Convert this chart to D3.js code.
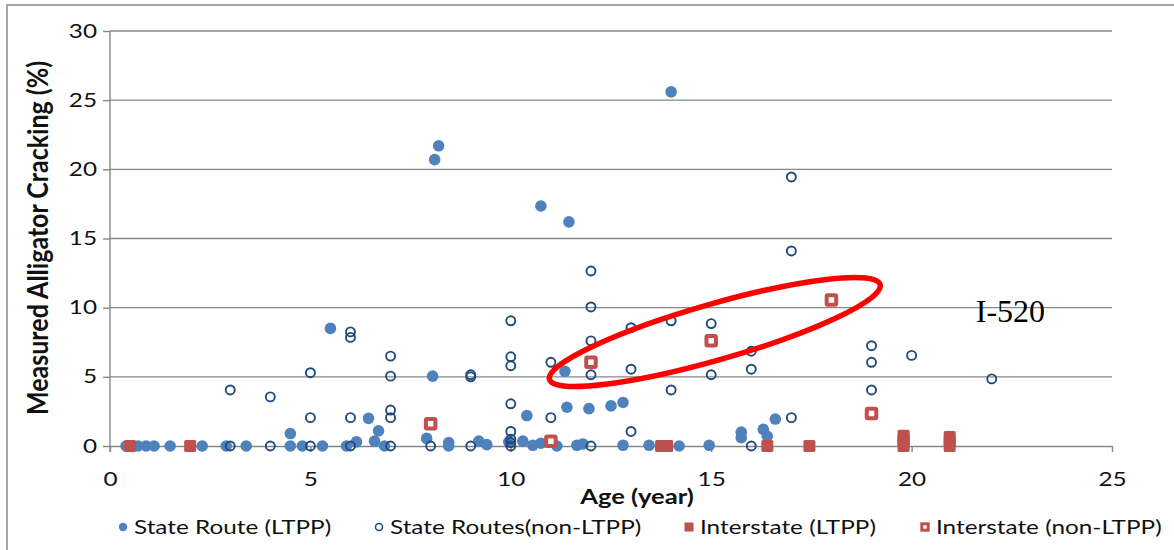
<!DOCTYPE html>
<html>
<head>
<meta charset="utf-8">
<script src="https://cdn.jsdelivr.net/npm/d3@7"></script>
<style>
  html, body { margin: 0; padding: 0; background: #fff; }
  svg { display: block; font-family: Lato, "Open Sans", sans-serif; }
</style>
</head>
<body>
<svg id="chart" width="1174" height="550"></svg>
<script>
// ─── Data ─────────────────────────────────────────────────────────────────────
// [age (year), measured alligator cracking (%)]

const stateLtpp = [
  [0.4, 0], [0.7, 0], [0.9, 0], [1.1, 0], [1.5, 0], [2.3, 0], [2.9, 0], [3.4, 0],
  [4.5, 0.9], [4.5, 0], [4.8, 0], [5.3, 0], [5.5, 8.5], [5.9, 0], [6.15, 0.3],
  [6.45, 2.0], [6.6, 0.35], [6.7, 1.1], [6.85, 0], [7.9, 0.55], [8.05, 5.05],
  [8.1, 20.7], [8.2, 21.7], [8.45, 0.25], [8.45, 0], [9.2, 0.35], [9.4, 0.1],
  [9.95, 0.3], [10.3, 0.35], [10.4, 2.2], [10.55, 0.05], [10.75, 0.2], [10.75, 17.35],
  [11.15, 0], [11.35, 5.4], [11.4, 2.8], [11.45, 16.2], [11.65, 0.05], [11.8, 0.15],
  [11.95, 2.7], [12.5, 2.9], [12.8, 3.15], [12.8, 0.05], [13.45, 0.05], [14.0, 25.6],
  [14.2, 0], [14.95, 0.05], [15.75, 1.0], [15.75, 0.6], [16.3, 1.2], [16.4, 0.7],
  [16.6, 1.95]
];

const stateNonLtpp = [
  [3, 4.05], [3, 0], [4, 3.55], [4, 0], [5, 5.3], [5, 2.05], [5, 0],
  [6, 8.25], [6, 7.85], [6, 2.05], [6, 0], [7, 6.5], [7, 5.05], [7, 2.6], [7, 2.05], [7, 0],
  [8, 0], [9, 5.15], [9, 5.0], [9, 0],
  [10, 9.05], [10, 6.45], [10, 5.8], [10, 3.05], [10, 1.05], [10, 0.5], [10, 0.25], [10, 0],
  [11, 6.05], [11, 2.05], [12, 12.65], [12, 10.05], [12, 7.6], [12, 5.15], [12, 0],
  [13, 8.55], [13, 5.55], [13, 1.05], [14, 9.05], [14, 4.05], [15, 8.85], [15, 5.15],
  [16, 6.85], [16, 5.55], [16, 0], [17, 19.45], [17, 14.1], [17, 2.05],
  [19, 7.25], [19, 6.05], [19, 4.05], [20, 6.55], [22, 4.85]
];

const interLtpp = [
  [0.5, 0], [2.0, 0], [13.75, 0], [13.9, 0], [16.4, 0], [17.45, 0],
  [19.8, 0], [19.8, 0.3], [19.8, 0.55], [19.8, 0.75],
  [20.95, 0], [20.95, 0.35], [20.95, 0.65]
];

const interNonLtpp = [
  [8.0, 1.6], [11.0, 0.35], [12.0, 6.05], [15.0, 7.6], [18.0, 10.55], [19.0, 2.35]
];

const xTicks = [0, 5, 10, 15, 20, 25];
const yTicks = [0, 5, 10, 15, 20, 25, 30];

const seriesNames = [
  "State Route (LTPP)",
  "State Routes(non-LTPP)",
  "Interstate (LTPP)",
  "Interstate (non-LTPP)"
];

// annotation: ellipse around I-520 points, centre in data units
const ellipseCentre = [15.09, 8.24];
const labelPos = [21.6, 9.0];

// ─── Setup ────────────────────────────────────────────────────────────────────

const BLUE = "#4F81BD";
const NAVY = "#1F4A7D";
const RED = "#C0504D";
const GRID = "#878787";
const SX = 1.28; // source picture has horizontally stretched text

const svg = d3.select("#chart");

const x = d3.scaleLinear().domain([0, 25]).range([110, 1112]);
const y = d3.scaleLinear().domain([0, 30]).range([446, 31]);

function stretch(sel) {
  sel.each(function () {
    const t = d3.select(this);
    const tx = +t.attr("x") || 0;
    const ty = +t.attr("y") || 0;
    t.attr("x", null).attr("y", null)
      .attr("transform", `translate(${tx},${ty}) scale(${SX},1)`);
  });
}

// outer frame
svg.append("path")
  .attr("d", "M7,550 V5 H1174")
  .attr("fill", "none")
  .attr("stroke", "#8c8c8c")
  .attr("stroke-width", 1.5);

// ─── Grid & axes ──────────────────────────────────────────────────────────────

svg.append("g")
  .selectAll("line")
  .data(yTicks.filter(d => d > 0))
  .join("line")
  .attr("x1", x(0)).attr("x2", x(25))
  .attr("y1", d => y(d)).attr("y2", d => y(d))
  .attr("stroke", GRID)
  .attr("stroke-width", 1.4);

const yAxis = svg.append("g")
  .attr("transform", `translate(${x(0)},0)`)
  .call(d3.axisLeft(y).tickValues(yTicks).tickSize(7).tickSizeOuter(0).tickPadding(6));

const xAxis = svg.append("g")
  .attr("transform", `translate(0,${y(0)})`)
  .call(d3.axisBottom(x).tickValues(xTicks).tickSize(6).tickSizeOuter(0));

[yAxis, xAxis].forEach(g => {
  g.selectAll("path, line").attr("stroke", GRID).attr("stroke-width", 1.4);
  g.selectAll("text")
    .attr("font-family", "Lato, sans-serif")
    .attr("font-size", "19px")
    .attr("fill", "#111");
});
yAxis.select(".domain").attr("d", `M0,${y(30)}V${y(0) + 6}`);
xAxis.selectAll("text").attr("y", 40).attr("dy", null);
stretch(yAxis.selectAll("text"));
stretch(xAxis.selectAll("text"));

// axis titles
svg.append("text")
  .attr("transform", "translate(48,238) scale(1.15,1) rotate(-90)")
  .attr("text-anchor", "middle")
  .attr("font-size", "25px")
  .attr("font-weight", "700")
  .attr("fill", "#111")
  .text("Measured Alligator Cracking (%)");

svg.append("text")
  .attr("transform", `translate(637,504) scale(${SX},1)`)
  .attr("text-anchor", "middle")
  .attr("font-size", "20px")
  .attr("font-weight", "700")
  .attr("fill", "#111")
  .text("Age (year)");

// ─── Series ───────────────────────────────────────────────────────────────────

svg.append("g")
  .selectAll("circle")
  .data(stateLtpp)
  .join("circle")
  .attr("cx", d => x(d[0]))
  .attr("cy", d => y(d[1]))
  .attr("r", 5.8)
  .attr("fill", BLUE);

svg.append("g")
  .selectAll("circle")
  .data(stateNonLtpp)
  .join("circle")
  .attr("cx", d => x(d[0]))
  .attr("cy", d => y(d[1]))
  .attr("r", 4.5)
  .attr("fill", "none")
  .attr("stroke", NAVY)
  .attr("stroke-width", 1.9);

svg.append("g")
  .selectAll("rect")
  .data(interLtpp)
  .join("rect")
  .attr("x", d => x(d[0]) - 6)
  .attr("y", d => y(d[1]) - 6)
  .attr("width", 12)
  .attr("height", 12)
  .attr("rx", 1.5)
  .attr("fill", RED);

svg.append("g")
  .selectAll("rect")
  .data(interNonLtpp)
  .join("rect")
  .attr("x", d => x(d[0]) - 4.75)
  .attr("y", d => y(d[1]) - 4.75)
  .attr("width", 9.5)
  .attr("height", 9.5)
  .attr("rx", 1)
  .attr("fill", "#fff")
  .attr("stroke", RED)
  .attr("stroke-width", 4);

// ─── Annotation ───────────────────────────────────────────────────────────────

svg.append("ellipse")
  .attr("transform", `translate(${x(ellipseCentre[0])},${y(ellipseCentre[1])}) rotate(-16)`)
  .attr("rx", 172)
  .attr("ry", 28)
  .attr("fill", "none")
  .attr("stroke", "#FF0000")
  .attr("stroke-width", 5.5);

svg.append("text")
  .attr("x", x(labelPos[0]))
  .attr("y", y(labelPos[1]))
  .attr("font-family", "'Liberation Serif', serif")
  .attr("font-size", "32px")
  .attr("fill", "#000")
  .text("I-520");

// ─── Legend ───────────────────────────────────────────────────────────────────

const legendX = [123, 379, 689, 925];
const legendY = 527;

const legend = svg.append("g")
  .selectAll("g")
  .data(seriesNames)
  .join("g")
  .attr("transform", (d, i) => `translate(${legendX[i]},${legendY})`);

legend.each(function (d, i) {
  const g = d3.select(this);
  if (i === 0) g.append("circle").attr("r", 4.2).attr("fill", BLUE);
  if (i === 1) g.append("circle").attr("r", 3.5).attr("fill", "none").attr("stroke", NAVY).attr("stroke-width", 1.5);
  if (i === 2) g.append("rect").attr("x", -4.5).attr("y", -4.5).attr("width", 9).attr("height", 9).attr("fill", RED);
  if (i === 3) g.append("rect").attr("x", -3.2).attr("y", -3.2).attr("width", 6.4).attr("height", 6.4)
    .attr("fill", "#fff").attr("stroke", RED).attr("stroke-width", 3);
});

legend.append("text")
  .attr("x", 11)
  .attr("y", 6.5)
  .attr("font-size", "19px")
  .attr("fill", "#111")
  .text(d => d);
stretch(legend.selectAll("text"));
</script>
</body>
</html>
